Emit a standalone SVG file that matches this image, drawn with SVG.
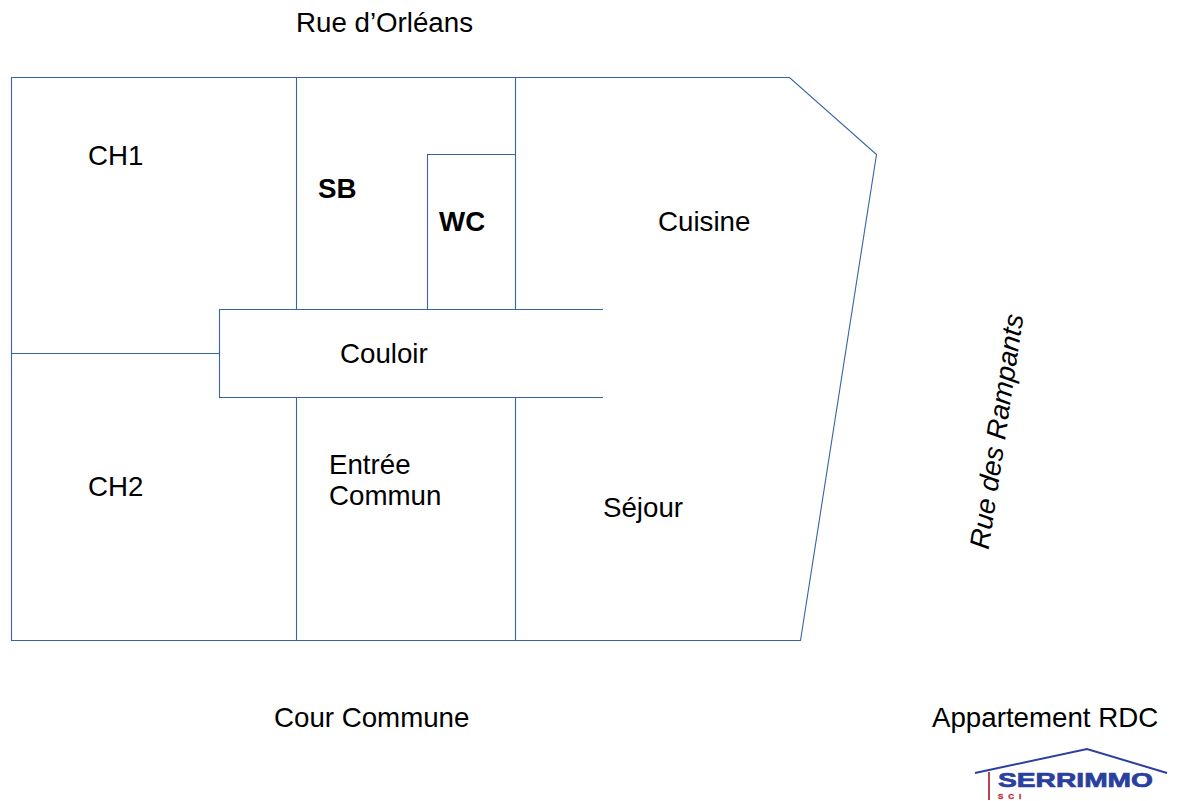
<svg xmlns="http://www.w3.org/2000/svg" width="1179" height="801" viewBox="0 0 1179 801">
<style>
.w{fill:none;stroke:#3465a4;stroke-width:1.1}
text{font-family:"Liberation Sans",Arial,sans-serif;font-size:27.7px;fill:#000}
.b{font-weight:bold}
</style>
<rect width="1179" height="801" fill="#fff"/>
<g id="walls">
<path id="outline" class="w" d="M11.5 77.5H789.5L876.5 154.5L800.5 640.5H11.5Z"/>
<path class="w" d="M296.5 77.5V309M296.5 397.5V640.5M515.5 77.5V309M515.5 397.5V640.5"/>
<path id="wc" class="w" d="M427.5 309V154.5H515.5"/>
<path id="couloir" class="w" d="M603 309.5H219.5V397.5H603"/>
<path class="w" d="M11.5 353.5H219.5"/>
</g>
<g id="labels">
<text x="296" y="32">Rue d’Orléans</text>
<text x="88" y="165">CH1</text>
<text class="b" x="318" y="198">SB</text>
<text class="b" x="439" y="231">WC</text>
<text x="658" y="231">Cuisine</text>
<text x="340" y="363">Couloir</text>
<text x="329" y="474">Entrée</text>
<text x="329" y="505">Commun</text>
<text x="88" y="496">CH2</text>
<text x="603" y="517">Séjour</text>
<text x="274" y="727">Cour Commune</text>
<text x="932" y="727">Appartement RDC</text>
<text font-style="italic" transform="translate(988.5 550) rotate(-81.5)">Rue des Rampants</text>
</g>
<g id="logo">
<path d="M975 773L1087 749L1167 773" fill="none" stroke="#2b3f9e" stroke-width="2"/>
<path d="M989 772V800" stroke="#b8434f" stroke-width="2"/>
<text x="998" y="787" style="font-family:'Liberation Sans',sans-serif;font-weight:bold;font-size:20.5px;fill:#2b3f9e;stroke:#2b3f9e;stroke-width:.7" textLength="155" lengthAdjust="spacingAndGlyphs">SERRIMMO</text>
<text x="998" y="798.5" style="font-family:'Liberation Sans',sans-serif;font-weight:bold;font-size:8px;fill:#c0303c;stroke:#c0303c;stroke-width:.4;letter-spacing:5px">SCI</text>
</g>
</svg>
